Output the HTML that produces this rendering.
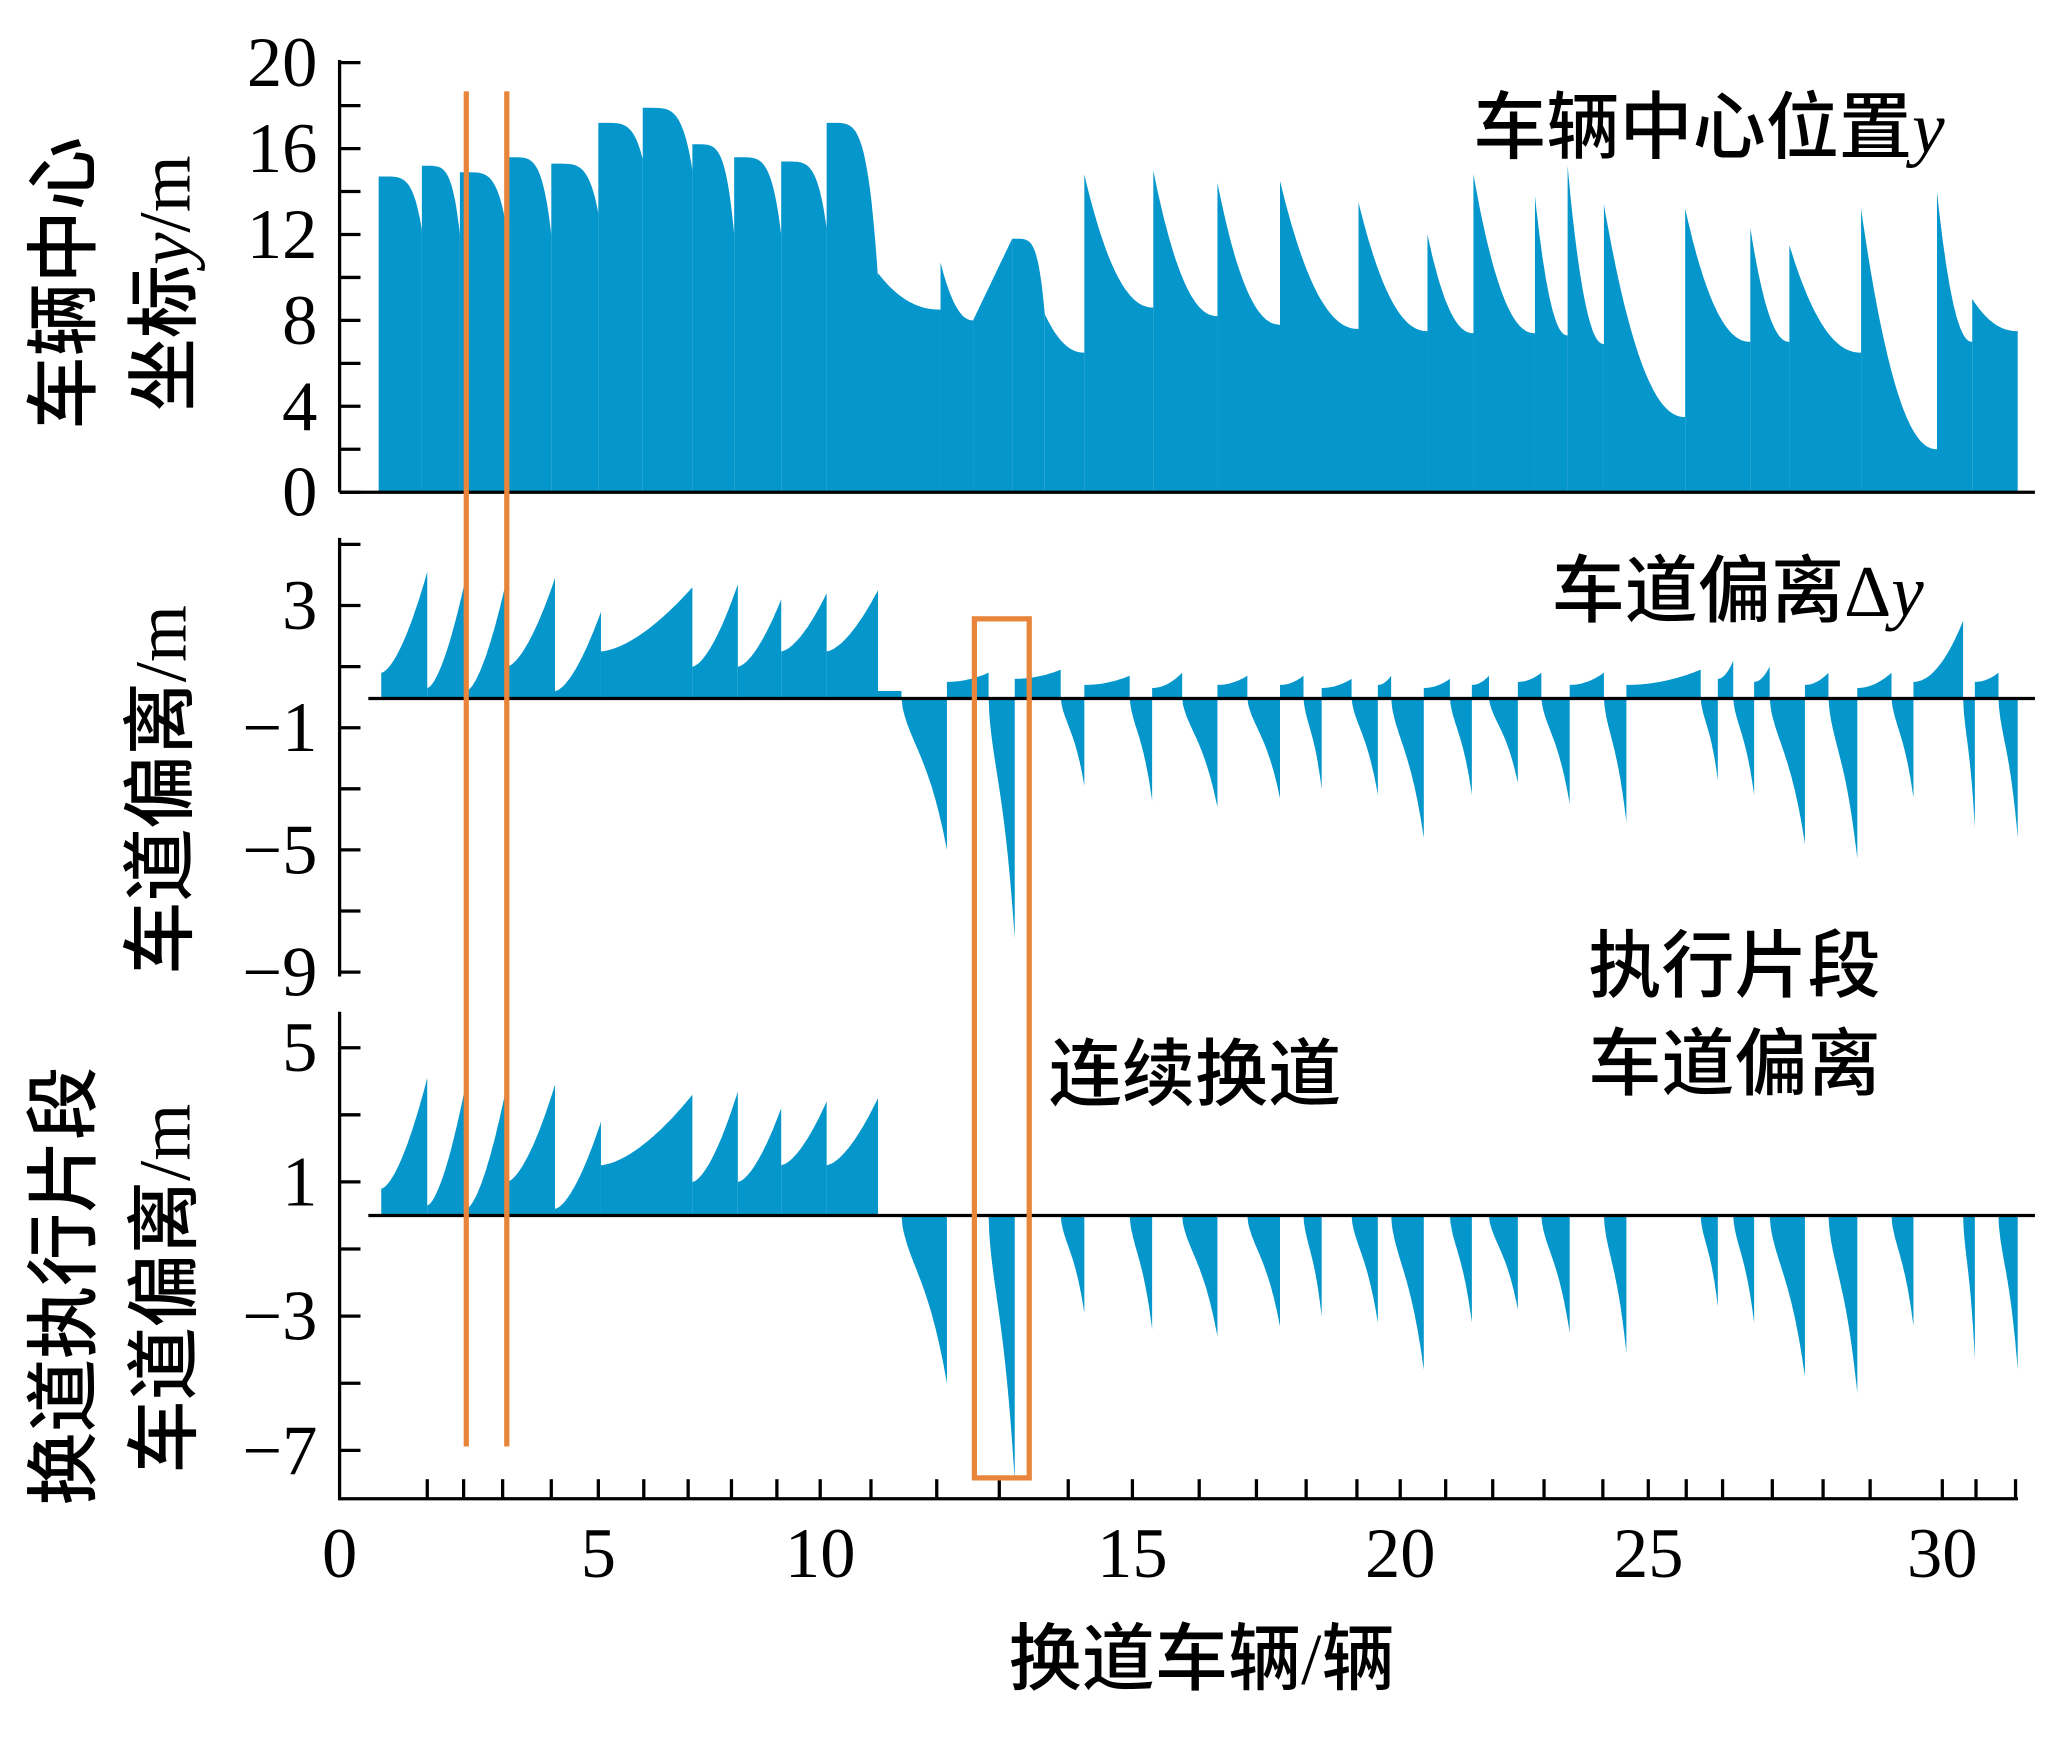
<!DOCTYPE html>
<html><head><meta charset="utf-8"><style>
html,body{margin:0;padding:0;background:#fff}
svg{display:block}
text{font-family:"Liberation Serif","Noto Serif CJK SC",serif;fill:#000}
.cjk{font-family:"Liberation Serif","Noto Sans CJK SC",sans-serif;font-weight:500}
</style></head><body>
<svg id="chart" width="2048" height="1739" viewBox="0 0 1568 1332" preserveAspectRatio="none" xmlns="http://www.w3.org/2000/svg">
<g id="marks"></g>
<g id="axes"></g>
<text class="cjk" x="1128" y="117" font-size="56">车辆中心位置<tspan font-style="italic" font-family="Liberation Serif" font-weight="400">y</tspan></text>
<text class="cjk" x="1188" y="472" font-size="56">车道偏离Δ<tspan font-style="italic" font-family="Liberation Serif" font-weight="400">y</tspan></text>
<text class="cjk" x="1216" y="759" font-size="56">执行片段</text>
<text class="cjk" x="1216" y="834" font-size="56">车道偏离</text>
<text class="cjk" x="803" y="842" font-size="56">连续换道</text>
<text class="cjk" x="920" y="1290" font-size="56" text-anchor="middle">换道车辆/辆</text>
<text class="cjk" transform="translate(68,217) rotate(-90)" font-size="56" text-anchor="middle">车辆中心</text>
<text class="cjk" transform="translate(145,217) rotate(-90)" font-size="56" text-anchor="middle">坐标<tspan font-style="italic" font-family="Liberation Serif" font-weight="400">y</tspan>/m</text>
<text class="cjk" transform="translate(142,605) rotate(-90)" font-size="56" text-anchor="middle">车道偏离/m</text>
<text class="cjk" transform="translate(68,985) rotate(-90)" font-size="56" text-anchor="middle">换道执行片段</text>
<text class="cjk" transform="translate(145,987) rotate(-90)" font-size="56" text-anchor="middle">车道偏离/m</text>
<g stroke="#E8853A" stroke-width="4" fill="none">
<line x1="357" y1="70" x2="357" y2="1108"/>
<line x1="388" y1="70" x2="388" y2="1108"/>
<rect x="746" y="474" width="42" height="658"/>
</g>
</svg>
<script>
// Top panel: vehicle centre y segments
const topStart=[0.73,1.54,2.25,3.13,3.96,4.84,5.67,6.60,7.38,8.26,9.11,10.07,11.24,11.85,12.58,13.19,13.93,15.22,16.42,17.59,19.06,20.35,21.21,22.36,22.97,23.65,25.17,26.39,27.12,28.46,29.88,30.54];
const topEndX=31.39;
const topA=[14.7,15.2,14.9,15.6,15.3,17.2,17.9,16.2,15.6,15.4,17.2,10.2,10.7,8.0,11.8,8.3,14.8,15.0,14.4,14.5,13.5,12.0,14.8,13.8,15.2,13.4,13.2,12.3,11.5,13.2,14.0,9.0];
const topB=[12.2,12.0,12.2,12.0,13.0,15.5,15.0,12.0,12.0,12.3,10.0,8.5,8.0,11.8,8.3,6.5,8.6,8.2,7.8,7.6,7.5,7.4,7.4,7.3,6.9,3.5,7.0,7.0,6.5,2.0,7.0,7.5];
const topShape=['drop','drop','drop','drop','drop','drop','drop','drop','drop','drop','drop','decay','decay','lin','drop','decay','decay','decay','decay','decay','decay','decay','decay','decay','decay','decay','decay','decay','decay','decay','decay','decay'];
// Positive execution segments (vehicles 1-10)
const posX0=[0.78,1.64,2.37,3.13,4.03,4.89,6.60,7.45,8.26,9.11];
const posX1=[1.64,2.37,3.13,4.03,4.89,6.60,7.45,8.26,9.11,10.07];
const posA=[0.8,0.3,0.2,1.0,0.2,1.5,1.0,1.0,1.5,1.5];
const posB=[4.1,4.0,3.9,3.9,2.8,3.6,3.7,3.2,3.4,3.5];
// Negative execution segments
const negX0=[10.51,12.14,13.49,14.78,15.76,16.98,18.03,18.93,19.67,20.77,21.50,22.48,23.65,25.46,26.07,26.75,27.85,29.03,30.37,31.03];
const negX1=[11.36,12.63,13.93,15.20,16.42,17.59,18.37,19.42,20.28,21.18,22.04,23.01,24.07,25.78,26.46,27.41,28.39,29.44,30.59,31.39];
const negB=[-5.0,-7.9,-2.9,-3.4,-3.6,-3.3,-3.0,-3.2,-4.6,-3.2,-2.8,-3.5,-4.1,-2.7,-3.2,-4.8,-5.3,-3.3,-4.3,-4.6];
// Non-execution small positive deviations before each negative segment
const preA=[0.2,0.5,0.6,0.4,0.3,0.4,0.4,0.3,0.4,0.3,0.4,0.5,0.4,0.4,0.6,0.5,0.4,0.3,0.5,0.5];
const preB=[0.2,0.8,0.9,0.7,0.8,0.7,0.7,0.6,0.7,0.6,0.7,0.8,0.8,0.9,1.2,1.0,0.8,0.8,2.5,0.8];
// Vehicle boundary ticks (same horizontal units as segments)
const xTickPos=[1.64,2.32,3.05,3.96,4.84,5.69,6.52,7.33,8.18,8.99,9.94,11.17,12.34,13.63,14.83,16.08,17.15,18.08,19.03,19.84,20.69,21.57,22.53,23.63,24.48,25.19,25.87,26.80,27.75,28.63,29.98,30.61,31.35];
const xLabelPos=[0,4.84,8.99,14.83,19.84,24.48,29.98];
const xLabels=['0','5','10','15','20','25','30'];
const topTicks=[0,4,8,12,16,20];
const midTicks=[3,-1,-5,-9];
const botTicks=[5,1,-3,-7];

const NS='http://www.w3.org/2000/svg';
const X=v=>260+v*40.93;
const Ytop=v=>377-v*16.45;
const Ymid=v=>534-v*23.4;
const Ybot=v=>931-v*25.7;
const FILL='#0596CB';
const marks=document.getElementById('marks');
const axes=document.getElementById('axes');
function area(x0,x1,f,ybase,Y,name){
  const N=40;let d='M'+X(x0).toFixed(1)+','+ybase;
  for(let i=0;i<=N;i++){const t=i/N;d+=' L'+X(x0+(x1-x0)*t).toFixed(1)+','+Y(f(t)).toFixed(1);}
  d+=' L'+X(x1).toFixed(1)+','+ybase+' Z';
  const p=document.createElementNS(NS,'path');
  p.setAttribute('d',d);p.setAttribute('fill',FILL);
  
  
  marks.appendChild(p);
}
function shapeF(a,b,s){
  if(s==='drop')return t=>a-(a-b)*Math.pow(t,5);
  if(s==='decay')return t=>b+(a-b)*Math.pow(1-t,2.2);
  return t=>a+(b-a)*t;
}
for(let i=0;i<topStart.length;i++){
  const x1=i+1<topStart.length?topStart[i+1]:topEndX;
  area(topStart[i],x1,shapeF(topA[i],topB[i],topShape[i]),377,Ytop,'top-area-'+(i+1));
}
for(let i=0;i<posX0.length;i++){
  const a=posA[i],b=posB[i];
  const f=t=>a+(b-a)*Math.pow(t,1.6);
  area(posX0[i],posX1[i],f,534,Ymid,'mid-pos-'+(i+1));
  area(posX0[i],posX1[i],f,931,Ybot,'bot-pos-'+(i+1));
}
for(let i=0;i<negX0.length;i++){
  const b=negB[i];
  const f=t=>b*(0.6*Math.pow(t,0.6)+0.4*Math.pow(t,3));
  area(negX0[i],negX1[i],f,534,Ymid,'mid-neg-'+(i+1));
  area(negX0[i],negX1[i],f,931,Ybot,'bot-neg-'+(i+1));
  const p0=i===0?10.07:negX1[i-1];
  const a2=preA[i],b2=preB[i];
  if(negX0[i]>p0)area(p0,negX0[i],t=>a2+(b2-a2)*Math.pow(t,2),534,Ymid,'mid-pre-'+(i+1));
}
function line(x1,y1,x2,y2,name,w){
  const l=document.createElementNS(NS,'line');
  l.setAttribute('x1',x1);l.setAttribute('y1',y1);l.setAttribute('x2',x2);l.setAttribute('y2',y2);
  l.setAttribute('stroke','#000');l.setAttribute('stroke-width',w||2.5);
  
  
  axes.appendChild(l);
}
function label(x,y,s,anchor,name){
  const t=document.createElementNS(NS,'text');
  t.setAttribute('x',x);t.setAttribute('y',y);t.setAttribute('font-size','54');t.setAttribute('text-anchor',anchor);
  t.textContent=s;
  
  
  axes.appendChild(t);
}
const fmt=v=>v<0?'\u2212'+(-v):String(v);
line(260,46,260,377,'top-y-axis');
line(260,377,1558,377,'top-baseline');
for(let v=0;v<=20;v+=2)line(260,Ytop(v),276,Ytop(v),'top-y-tick');
topTicks.forEach(v=>label(243,Ytop(v)+18,fmt(v),'end','top-y-tick-label'));
line(260,412,260,748,'mid-y-axis');
line(282,535,1558,535,'mid-zero-line');
for(let v=5;v>=-9;v-=2)line(260,Ymid(v),276,Ymid(v),'mid-y-tick');
midTicks.forEach(v=>label(243,Ymid(v)+18,fmt(v),'end','mid-y-tick-label'));
line(260,775,260,1149,'bot-y-axis');
line(282,931,1558,931,'bot-zero-line');
for(let v=5;v>=-8;v-=2)line(260,Ybot(v),276,Ybot(v),'bot-y-tick');
botTicks.forEach(v=>label(243,Ybot(v)+18,fmt(v),'end','bot-y-tick-label'));
line(259,1148,1545,1148,'x-axis');
xTickPos.forEach(v=>line(X(v),1148,X(v),1133,'x-tick'));
xLabelPos.forEach((v,i)=>label(X(v),1208,xLabels[i],'middle','x-tick-label'));
</script>
</body></html>
